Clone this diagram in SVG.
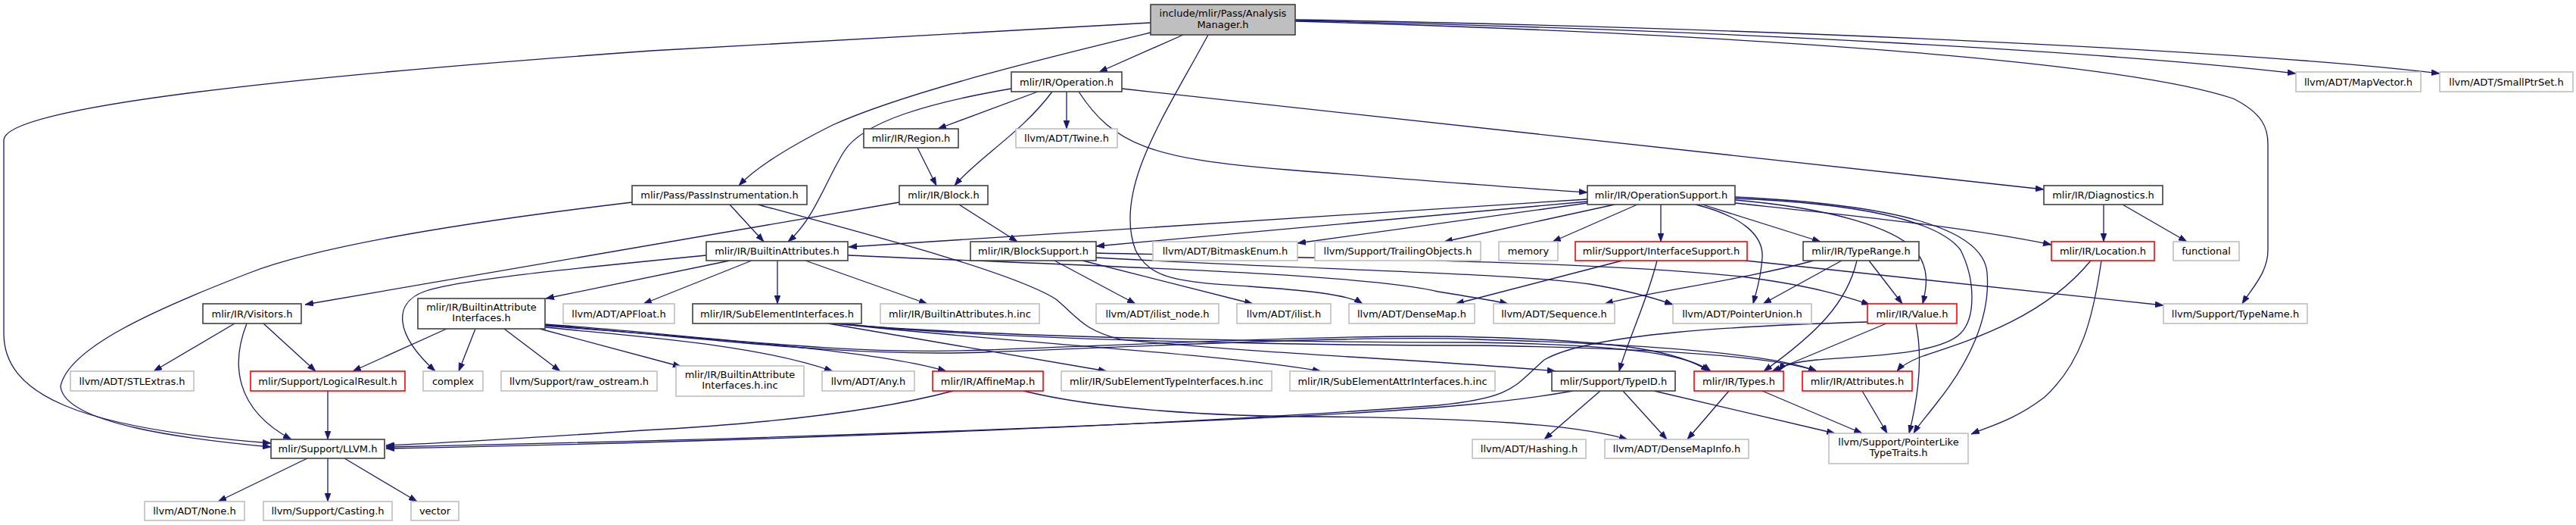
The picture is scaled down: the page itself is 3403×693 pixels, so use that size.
<svg xmlns="http://www.w3.org/2000/svg" width="3403" height="693" viewBox="0 0 3403 693">
<defs>
<marker id="a" viewBox="0 0 11 8" refX="11" refY="4" markerWidth="11" markerHeight="8" markerUnits="userSpaceOnUse" orient="auto">
<path d="M0,0 L11,4 L0,8 z" fill="#191970" stroke="#191970" stroke-width="0.6"/>
</marker>
</defs>
<style>
rect{fill:#ffffff;stroke:#404040;stroke-width:1.6}
.g rect{stroke:#bfbfbf}
.r rect{stroke:#ff0000}
.root rect{fill:#bfbfbf}
text{font-family:'DejaVu Sans','Liberation Sans',sans-serif;font-size:13px;text-anchor:middle;fill:#000000}
#edges path{fill:none;stroke:#191970;stroke-width:1.3;marker-end:url(#a)}
</style>
<rect x="0" y="0" width="3403" height="693" style="fill:#ffffff;stroke:none"/>
<g id="edges">
<path d="M1563,46 L1452,95"/>
<path d="M1520,43 C1400,72 1200,120 1100,165 C1030,200 995,225 976,245"/>
<path d="M1520,30 L860,67 C400,100 5,140 5,185 L5,440 C5,520 100,565 358,585"/>
<path d="M1711,27 C2300,40 2800,70 3033,97"/>
<path d="M1711,26 C2400,38 3000,70 3223,97"/>
<path d="M1711,28 C2300,45 2800,80 2950,130 C2990,150 2996,170 2996,190 L2996,330 C2996,360 2975,380 2962,401"/>
<path d="M1596,46 C1540,150 1470,250 1500,330 C1520,370 1560,372 1650,378 C1720,383 1780,388 1800,401"/>
<path d="M1371,121 L1239,170"/>
<path d="M1409,121 L1409,170"/>
<path d="M1390,121 C1350,175 1290,210 1261,245"/>
<path d="M1336,117 C1230,135 1140,160 1115,200 C1090,240 1075,290 1041,319"/>
<path d="M1425,121 C1470,190 1520,210 1700,224 C1900,240 2000,248 2097,254"/>
<path d="M1482,117 L2700,250"/>
<path d="M1212,195 L1237,245"/>
<path d="M964,270 L1009,319"/>
<path d="M835,267 C600,295 420,325 330,360 C200,410 90,460 80,510 C85,560 250,580 358,590"/>
<path d="M1001,270 C1150,310 1340,360 1395,395 C1425,420 1430,435 1480,448 C1700,470 1900,475 2055,490"/>
<path d="M1267,270 L1344,319"/>
<path d="M1188,267 L403,402"/>
<path d="M964,344 L721,394"/>
<path d="M993,344 L850,401"/>
<path d="M1027,344 L1027,401"/>
<path d="M1064,344 L1225,401"/>
<path d="M933,337 C750,355 600,370 560,385 C520,400 520,440 575,490"/>
<path d="M1120,337 C1400,350 1800,360 1900,385 C1950,393 1980,398 1992,401"/>
<path d="M1393,344 L1500,401"/>
<path d="M1430,344 L1655,401"/>
<path d="M1448,340 C1700,355 2000,360 2100,375 C2160,385 2190,395 2210,402"/>
<path d="M1448,334 C1800,342 2100,345 2300,365 C2400,378 2440,392 2470,402"/>
<path d="M2097,263 L1121,326"/>
<path d="M2097,266 L1448,325"/>
<path d="M2097,268 L1714,321"/>
<path d="M2133,270 L1908,319"/>
<path d="M2163,270 L2051,319"/>
<path d="M2194,270 L2194,319"/>
<path d="M2249,270 L2405,319"/>
<path d="M2240,270 C2300,285 2330,310 2328,340 C2326,370 2320,385 2316,401"/>
<path d="M2292,264 C2420,275 2500,300 2530,330 C2550,355 2545,380 2540,401"/>
<path d="M2292,262 C2450,268 2560,290 2590,330 C2610,370 2610,420 2590,440 C2560,470 2450,470 2400,475 C2370,478 2355,482 2350,490"/>
<path d="M2292,260 C2500,270 2620,300 2625,360 C2630,420 2600,480 2560,530 C2545,550 2535,560 2528,572"/>
<path d="M2292,268 C2450,285 2600,300 2710,323"/>
<path d="M2143,344 L1923,401"/>
<path d="M2189,344 C2175,400 2150,450 2139,490"/>
<path d="M2306,344 L2858,403"/>
<path d="M2396,344 C2300,370 2180,385 2120,401"/>
<path d="M2433,344 L2329,401"/>
<path d="M2453,344 C2440,400 2400,440 2330,490"/>
<path d="M2469,344 L2513,401"/>
<path d="M2492,427 L2341,490"/>
<path d="M2531,427 C2540,470 2535,520 2522,572"/>
<path d="M2467,425 C2300,430 2100,440 2040,475 C2000,510 2000,525 1900,535 C1500,565 900,585 510,592"/>
<path d="M2284,516 L2229,580"/>
<path d="M2328,516 L2460,572"/>
<path d="M2460,516 L2493,572"/>
<path d="M2762,344 C2700,420 2600,450 2540,470 C2520,478 2510,485 2506,490"/>
<path d="M2776,344 C2765,420 2750,480 2700,525 C2660,555 2630,562 2604,573"/>
<path d="M2779,270 L2779,319"/>
<path d="M2804,270 L2889,319"/>
<path d="M2078,516 C2000,530 1900,540 1700,550 C1300,570 900,582 510,590"/>
<path d="M2114,516 L2040,580"/>
<path d="M2144,516 L2202,580"/>
<path d="M2185,516 L2424,572"/>
<path d="M1259,516 C1150,545 1000,560 850,568 C700,578 600,584 510,588"/>
<path d="M1352,516 C1450,540 1600,550 1750,550 C1950,552 2080,560 2150,580"/>
<path d="M310,427 L203,490"/>
<path d="M348,427 L417,490"/>
<path d="M326,427 C305,480 310,540 385,580"/>
<path d="M433,516 L433,580"/>
<path d="M406,605 L288,662"/>
<path d="M433,605 L433,662"/>
<path d="M455,605 L551,662"/>
<path d="M590,434 L466,490"/>
<path d="M628,434 L606,490"/>
<path d="M666,434 L740,490"/>
<path d="M713,434 L900,484"/>
<path d="M720,432 C850,445 1000,455 1100,490"/>
<path d="M720,430 C900,445 1150,460 1250,490"/>
<path d="M720,428 C900,440 1100,470 1300,462 C1500,455 1800,440 1950,445 C2150,450 2220,465 2258,490"/>
<path d="M720,429 C900,442 1100,472 1300,465 C1500,458 1800,442 1950,448 C2200,455 2350,470 2400,490"/>
<path d="M1094,427 L1462,490"/>
<path d="M1106,427 C1300,450 1600,465 1745,490"/>
<path d="M1100,427 C1300,445 1700,452 1950,452 C2150,455 2230,468 2260,490"/>
<path d="M1110,427 C1300,448 1700,456 1950,456 C2200,460 2350,472 2400,490"/>
</g>
<g id="n_am" class="root"><rect x="1520" y="6" width="191" height="40"/><text x="1615.5" y="22">include/mlir/Pass/Analysis</text><text x="1615.5" y="37">Manager.h</text></g>
<g id="n_operation"><rect x="1336" y="95" width="146" height="26"/><text x="1409" y="112.5">mlir/IR/Operation.h</text></g>
<g id="n_mapvector" class="g"><rect x="3033" y="95" width="165" height="26"/><text x="3115.5" y="112.5">llvm/ADT/MapVector.h</text></g>
<g id="n_smallptrset" class="g"><rect x="3223" y="95" width="176" height="26"/><text x="3311" y="112.5">llvm/ADT/SmallPtrSet.h</text></g>
<g id="n_region"><rect x="1141" y="170" width="125" height="25"/><text x="1203.5" y="187">mlir/IR/Region.h</text></g>
<g id="n_twine" class="g"><rect x="1342" y="170" width="134" height="25"/><text x="1409" y="187">llvm/ADT/Twine.h</text></g>
<g id="n_passinstr"><rect x="835" y="245" width="231" height="25"/><text x="950.5" y="262">mlir/Pass/PassInstrumentation.h</text></g>
<g id="n_block"><rect x="1188" y="245" width="117" height="25"/><text x="1246.5" y="262">mlir/IR/Block.h</text></g>
<g id="n_opsupport"><rect x="2097" y="245" width="195" height="25"/><text x="2194.5" y="262">mlir/IR/OperationSupport.h</text></g>
<g id="n_diagnostics"><rect x="2700" y="245" width="157" height="25"/><text x="2778.5" y="262">mlir/IR/Diagnostics.h</text></g>
<g id="n_builtinattrs"><rect x="933" y="319" width="187" height="25"/><text x="1026.5" y="336">mlir/IR/BuiltinAttributes.h</text></g>
<g id="n_blocksupport"><rect x="1282" y="319" width="166" height="25"/><text x="1365" y="336">mlir/IR/BlockSupport.h</text></g>
<g id="n_bitmaskenum" class="g"><rect x="1523" y="319" width="191" height="25"/><text x="1618.5" y="336">llvm/ADT/BitmaskEnum.h</text></g>
<g id="n_trailing" class="g"><rect x="1737" y="319" width="219" height="25"/><text x="1846.5" y="336">llvm/Support/TrailingObjects.h</text></g>
<g id="n_memory" class="g"><rect x="1980" y="319" width="78" height="25"/><text x="2019" y="336">memory</text></g>
<g id="n_ifacesupport" class="r"><rect x="2081" y="319" width="227" height="25"/><text x="2194.5" y="336">mlir/Support/InterfaceSupport.h</text></g>
<g id="n_typerange"><rect x="2382" y="319" width="153" height="25"/><text x="2458.5" y="336">mlir/IR/TypeRange.h</text></g>
<g id="n_location" class="r"><rect x="2710" y="319" width="136" height="25"/><text x="2778" y="336">mlir/IR/Location.h</text></g>
<g id="n_functional" class="g"><rect x="2871" y="319" width="87" height="25"/><text x="2914.5" y="336">functional</text></g>
<g id="n_visitors"><rect x="268" y="401" width="130" height="26"/><text x="333" y="418.5">mlir/IR/Visitors.h</text></g>
<g id="n_bai"><rect x="552" y="394" width="168" height="40"/><text x="636" y="409.5">mlir/IR/BuiltinAttribute</text><text x="636" y="424">Interfaces.h</text></g>
<g id="n_apfloat" class="g"><rect x="744" y="401" width="147" height="26"/><text x="817.5" y="418.5">llvm/ADT/APFloat.h</text></g>
<g id="n_sei"><rect x="915" y="401" width="223" height="26"/><text x="1026.5" y="418.5">mlir/IR/SubElementInterfaces.h</text></g>
<g id="n_bainc" class="g"><rect x="1163" y="401" width="210" height="26"/><text x="1268" y="418.5">mlir/IR/BuiltinAttributes.h.inc</text></g>
<g id="n_ilistnode" class="g"><rect x="1448" y="401" width="162" height="26"/><text x="1529" y="418.5">llvm/ADT/ilist_node.h</text></g>
<g id="n_ilist" class="g"><rect x="1634" y="401" width="124" height="26"/><text x="1696" y="418.5">llvm/ADT/ilist.h</text></g>
<g id="n_densemap" class="g"><rect x="1782" y="401" width="166" height="26"/><text x="1865" y="418.5">llvm/ADT/DenseMap.h</text></g>
<g id="n_sequence" class="g"><rect x="1973" y="401" width="160" height="26"/><text x="2053" y="418.5">llvm/ADT/Sequence.h</text></g>
<g id="n_pointerunion" class="g"><rect x="2210" y="401" width="183" height="26"/><text x="2301.5" y="418.5">llvm/ADT/PointerUnion.h</text></g>
<g id="n_value" class="r"><rect x="2467" y="401" width="118" height="26"/><text x="2526" y="418.5">mlir/IR/Value.h</text></g>
<g id="n_typename" class="g"><rect x="2858" y="401" width="190" height="26"/><text x="2953" y="418.5">llvm/Support/TypeName.h</text></g>
<g id="n_stlextras" class="g"><rect x="93" y="490" width="163" height="26"/><text x="174.5" y="507.5">llvm/ADT/STLExtras.h</text></g>
<g id="n_logicalresult" class="r"><rect x="331" y="490" width="204" height="26"/><text x="433" y="507.5">mlir/Support/LogicalResult.h</text></g>
<g id="n_complex" class="g"><rect x="559" y="490" width="79" height="26"/><text x="598.5" y="507.5">complex</text></g>
<g id="n_rawostream" class="g"><rect x="662" y="490" width="206" height="26"/><text x="765" y="507.5">llvm/Support/raw_ostream.h</text></g>
<g id="n_baiinc" class="g"><rect x="893" y="483" width="169" height="40"/><text x="977.5" y="498.5">mlir/IR/BuiltinAttribute</text><text x="977.5" y="513">Interfaces.h.inc</text></g>
<g id="n_any" class="g"><rect x="1086" y="490" width="122" height="26"/><text x="1147" y="507.5">llvm/ADT/Any.h</text></g>
<g id="n_affinemap" class="r"><rect x="1232" y="490" width="146" height="26"/><text x="1305" y="507.5">mlir/IR/AffineMap.h</text></g>
<g id="n_seti" class="g"><rect x="1402" y="490" width="278" height="26"/><text x="1541" y="507.5">mlir/IR/SubElementTypeInterfaces.h.inc</text></g>
<g id="n_seai" class="g"><rect x="1704" y="490" width="271" height="26"/><text x="1839.5" y="507.5">mlir/IR/SubElementAttrInterfaces.h.inc</text></g>
<g id="n_typeid"><rect x="2050" y="490" width="163" height="26"/><text x="2131.5" y="507.5">mlir/Support/TypeID.h</text></g>
<g id="n_types" class="r"><rect x="2238" y="490" width="118" height="26"/><text x="2297" y="507.5">mlir/IR/Types.h</text></g>
<g id="n_attributes" class="r"><rect x="2381" y="490" width="145" height="26"/><text x="2453.5" y="507.5">mlir/IR/Attributes.h</text></g>
<g id="n_llvm"><rect x="358" y="580" width="150" height="25"/><text x="433" y="597">mlir/Support/LLVM.h</text></g>
<g id="n_hashing" class="g"><rect x="1945" y="580" width="150" height="25"/><text x="2020" y="597">llvm/ADT/Hashing.h</text></g>
<g id="n_densemapinfo" class="g"><rect x="2120" y="580" width="190" height="25"/><text x="2215" y="597">llvm/ADT/DenseMapInfo.h</text></g>
<g id="n_pointerlike" class="g"><rect x="2416" y="572" width="184" height="40"/><text x="2508" y="587.5">llvm/Support/PointerLike</text><text x="2508" y="602">TypeTraits.h</text></g>
<g id="n_none" class="g"><rect x="191" y="662" width="132" height="25"/><text x="257" y="679">llvm/ADT/None.h</text></g>
<g id="n_casting" class="g"><rect x="348" y="662" width="170" height="25"/><text x="433" y="679">llvm/Support/Casting.h</text></g>
<g id="n_vector" class="g"><rect x="543" y="662" width="63" height="25"/><text x="574.5" y="679">vector</text></g>
</svg>
